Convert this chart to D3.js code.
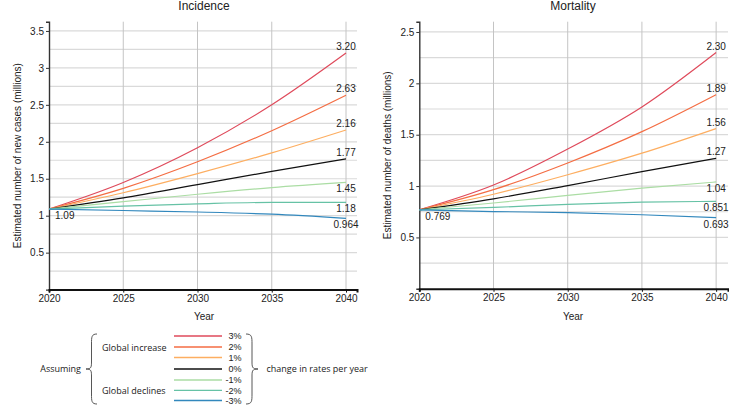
<!DOCTYPE html>
<html><head><meta charset="utf-8">
<script src="https://cdn.jsdelivr.net/npm/d3@7"></script>
<style>
body{margin:0;background:#fff;}
text{font-family:"Liberation Sans",Arial,sans-serif;fill:#222;}
.leg text{font-family:"Open Sans","Noto Sans",sans-serif;}
</style></head>
<body><svg id="c" width="729" height="405"></svg>
<script>
const years = [2020, 2025, 2030, 2035, 2040];
const scenarios = ["3%", "2%", "1%", "0%", "-1%", "-2%", "-3%"];
const colors = ["#df4a5b", "#f46d43", "#fdae61", "#111111", "#abdda4", "#66c2a5", "#3288bd"];
const incidence = {
  "3%":  [1.09, 1.45, 1.92, 2.50, 3.20],
  "2%":  [1.09, 1.37, 1.73, 2.15, 2.63],
  "1%":  [1.09, 1.31, 1.57, 1.85, 2.16],
  "0%":  [1.09, 1.24, 1.42, 1.60, 1.77],
  "-1%": [1.09, 1.19, 1.29, 1.38, 1.45],
  "-2%": [1.09, 1.13, 1.16, 1.18, 1.18],
  "-3%": [1.09, 1.07, 1.05, 1.02, 0.964]
};
const mortality = {
  "3%":  [0.769, 1.01, 1.36, 1.77, 2.30],
  "2%":  [0.769, 0.965, 1.225, 1.53, 1.89],
  "1%":  [0.769, 0.92, 1.11, 1.32, 1.56],
  "0%":  [0.769, 0.876, 1.005, 1.14, 1.27],
  "-1%": [0.769, 0.835, 0.91, 0.98, 1.04],
  "-2%": [0.769, 0.792, 0.822, 0.843, 0.851],
  "-3%": [0.769, 0.752, 0.742, 0.721, 0.693]
};
const incEndLabels = ["3.20", "2.63", "2.16", "1.77", "1.45", "1.18", "0.964"];
const morEndLabels = ["2.30", "1.89", "1.56", "1.27", "1.04", "0.851", "0.693"];
const incStartLabel = "1.09", morStartLabel = "0.769";
const incTicks = [0.5, 1, 1.5, 2, 2.5, 3, 3.5];
const morTicks = [0.5, 1, 1.5, 2, 2.5];
const xTicks = [2020, 2025, 2030, 2035, 2040];

const svg = d3.select("#c");

function panel(cfg){
  const g = svg.append("g");
  const x = d3.scaleLinear().domain([2020, cfg.xEnd]).range([cfg.x0, cfg.x1]);
  const y = d3.scaleLinear().domain([0, cfg.yMax]).range([cfg.yb, cfg.yt]);
  const grid = d3.range(0.25, cfg.yMax, 0.25);
  g.append("g").selectAll("line").data(grid).join("line")
    .attr("x1", cfg.x0).attr("x2", cfg.x1)
    .attr("y1", d => y(d)).attr("y2", d => y(d))
    .attr("stroke", "#dadada").attr("stroke-width", 1.2);
  g.append("g").selectAll("line").data(xTicks.slice(1)).join("line")
    .attr("x1", d => x(d)).attr("x2", d => x(d))
    .attr("y1", cfg.yt).attr("y2", cfg.yb)
    .attr("stroke", "#c4c4c4").attr("stroke-width", 1);
  const ya = g.append("g").attr("transform", `translate(${cfg.x0},0)`)
    .call(d3.axisLeft(y).tickValues(cfg.ticks).tickSize(3).tickPadding(2).tickFormat(d3.format("")));
  ya.select(".domain").attr("stroke", "#333").attr("stroke-width", 1.4);
  ya.selectAll(".tick line").attr("stroke", "#333");
  ya.selectAll("text").attr("font-size", 10).attr("fill", "#222")
    .style("font-family", '"Liberation Sans",Arial,sans-serif');
  const xa = g.append("g").attr("transform", `translate(0,${cfg.yb})`)
    .call(d3.axisBottom(x).tickValues(xTicks).tickSize(3).tickPadding(2).tickFormat(d3.format("d")));
  xa.select(".domain").attr("stroke", "#111").attr("stroke-width", 2);
  xa.selectAll(".tick line").attr("stroke", "#111");
  xa.selectAll("text").attr("font-size", 10).attr("fill", "#222")
    .style("font-family", '"Liberation Sans",Arial,sans-serif');
  const line = d3.line().x((d, i) => x(years[i])).y(d => y(d)).curve(d3.curveMonotoneX);
  scenarios.forEach((s, i) => {
    g.append("path").datum(cfg.data[s]).attr("d", line)
      .attr("fill", "none").attr("stroke", colors[i]).attr("stroke-width", 1.2);
  });
  scenarios.forEach((s, i) => {
    const v = cfg.data[s][years.length - 1];
    const above = i <= 3;
    g.append("text").attr("x", x(2040)).attr("y", y(v) + (above ? -3 : 10))
      .attr("text-anchor", "middle").attr("font-size", 10).text(cfg.endLabels[i]);
  });
  g.append("text").attr("x", x(2020) + 6).attr("y", y(cfg.data["0%"][0]) + 10)
    .attr("font-size", 10).text(cfg.startLabel);
  g.append("text").attr("x", cfg.titleX).attr("y", 10).attr("text-anchor", "middle")
    .attr("font-size", 12).text(cfg.title);
  g.append("text").attr("x", cfg.titleX).attr("y", 320).attr("text-anchor", "middle")
    .attr("font-size", 10).text("Year");
  g.append("text").attr("transform", `translate(${cfg.ytX},${(cfg.yt + cfg.yb) / 2}) rotate(-90)`)
    .attr("text-anchor", "middle").attr("font-size", 10).text(cfg.yTitle);
}

panel({x0: 49, x1: 357, xEnd: 2040.74, yb: 289.6, yt: 21.7, yMax: 3.625, ticks: incTicks,
  data: incidence, endLabels: incEndLabels, startLabel: incStartLabel,
  title: "Incidence", titleX: 204, ytX: 20.5, yTitle: "Estimated number of new cases (millions)"});
panel({x0: 419.3, x1: 728, xEnd: 2040.8, yb: 288.8, yt: 21.7, yMax: 2.6, ticks: morTicks,
  data: mortality, endLabels: morEndLabels, startLabel: morStartLabel,
  title: "Mortality", titleX: 573, ytX: 390.5, yTitle: "Estimated number of deaths (millions)"});

// legend
const leg = svg.append("g").attr("class", "leg");
const legYs = {"3%": 336, "2%": 347, "1%": 357.5, "0%": 369, "-1%": 380, "-2%": 390.3, "-3%": 400.5};
scenarios.forEach((s, i) => {
  const yy = legYs[s];
  leg.append("line").attr("x1", 174).attr("x2", 222).attr("y1", yy).attr("y2", yy)
    .attr("stroke", colors[i]).attr("stroke-width", 1.3);
  leg.append("text").attr("x", 241.5).attr("y", yy + 3.2).attr("text-anchor", "end")
    .attr("font-size", 9).style("font-family", '"Liberation Sans",Arial,sans-serif').text(s);
});
function brace(xTip, xEdge, yTop, yMid, yBot){
  const xm = (xTip + xEdge) / 2;
  return `M${xEdge},${yTop} C${xm},${yTop} ${xm},${yTop+3} ${xm},${yTop+10} L${xm},${yMid-8} C${xm},${yMid-2} ${xm},${yMid} ${xTip},${yMid}` +
         ` C${xm},${yMid} ${xm},${yMid+2} ${xm},${yMid+8} L${xm},${yBot-10} C${xm},${yBot-3} ${xm},${yBot} ${xEdge},${yBot}`;
}
leg.append("path").attr("d", brace(86, 97, 334, 369, 404)).attr("fill", "none").attr("stroke", "#444").attr("stroke-width", 0.9);
leg.append("path").attr("d", brace(258, 246, 334, 369, 404)).attr("fill", "none").attr("stroke", "#444").attr("stroke-width", 0.9);
leg.append("text").attr("x", 81).attr("y", 372).attr("text-anchor", "end").attr("font-size", 9).text("Assuming");
leg.append("text").attr("x", 102).attr("y", 350.5).attr("font-size", 9).text("Global increase");
leg.append("text").attr("x", 102).attr("y", 394).attr("font-size", 9).text("Global declines");
leg.append("text").attr("x", 266.5).attr("y", 372).attr("font-size", 9).text("change in rates per year");
</script></body></html>
